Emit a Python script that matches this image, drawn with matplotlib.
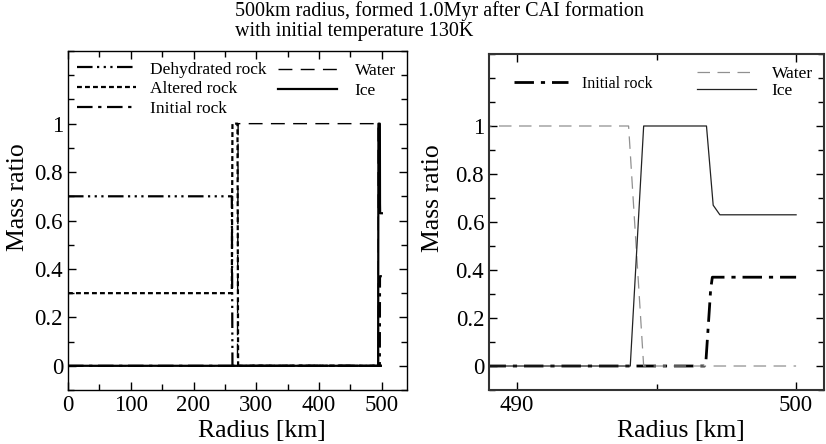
import numpy as np
import matplotlib
matplotlib.use("Agg")
import matplotlib.pyplot as plt
from matplotlib.ticker import MultipleLocator, FixedLocator

plt.rcParams["font.family"] = ["Liberation Serif", "DejaVu Serif"]

# radius [km] / mass ratio for each component
dehyd_r = [0, 261, 262, 500]
dehyd_v = [0.7, 0.7, 0.0, 0.0]

altered_r = [0, 261, 262, 270, 271, 500]
altered_v = [0.3, 0.3, 1.0, 1.0, 0.0, 0.0]

initial_r = [0, 496.72, 496.77, 496.89, 496.94, 497.0, 500]
initial_v = [0.0, 0.0, 0.02, 0.23, 0.32, 0.37, 0.37]

water_r = [0, 270, 271, 494.0, 494.54, 500]
water_v = [0.0, 0.0, 1.0, 1.0, 0.0, 0.0]

ice_r = [0, 494.06, 494.54, 496.79, 497.03, 497.27, 500]
ice_v = [0.0, 0.0, 1.0, 1.0, 0.67, 0.63, 0.63]

title = "500km radius, formed 1.0Myr after CAI formation\nwith initial temperature 130K"

ls_dehyd = (0, (7, 2, 1, 2, 1, 2, 1, 2))
ls_altered = (0, (2.2, 1.4))
ls_initial = (0, (7, 2.5, 1.5, 2.5))
ls_water = (0, (10, 6))

fig = plt.figure(figsize=(8.26, 4.44), dpi=100)
ax1 = fig.add_axes([0.0823, 0.1216, 0.4104, 0.7635])
ax2 = fig.add_axes([0.592, 0.1216, 0.4056, 0.7568])

# left panel: whole body
ax1.plot(dehyd_r, dehyd_v, color="k", lw=1.6, ls=ls_dehyd, label="Dehydrated rock")
ax1.plot(altered_r, altered_v, color="k", lw=1.6, ls=ls_altered, label="Altered rock")
ax1.plot(initial_r, initial_v, color="k", lw=1.6, ls=ls_initial, label="Initial rock")
ax1.plot(water_r, water_v, color="k", lw=1.0, ls=ls_water, label="Water")
ax1.plot(ice_r, ice_v, color="k", lw=1.6, ls="-", label="Ice")

ax1.set_xlim(0, 540)
ax1.set_ylim(-0.1, 1.3)
ax1.xaxis.set_major_locator(MultipleLocator(100))
ax1.xaxis.set_minor_locator(MultipleLocator(50))

h1, l1 = ax1.get_legend_handles_labels()
lg = ax1.legend(h1[:3], l1[:3], loc="upper left", frameon=False, fontsize=12.5,
                handlelength=3.4, handletextpad=0.85, labelspacing=0.2,
                borderaxespad=0.0, bbox_to_anchor=(0.005, 0.99))
ax1.add_artist(lg)
ax1.legend(h1[3:], l1[3:], loc="upper left", frameon=False, fontsize=12.5,
           handlelength=3.4, handletextpad=1.0, labelspacing=0.2,
           borderaxespad=0.0, bbox_to_anchor=(0.6, 0.985))

# right panel: close-up near surface
ax2.plot(initial_r, initial_v, color="k", lw=2.0, ls=ls_initial, label="Initial rock")
ax2.plot(water_r, water_v, color="#909090", lw=0.9, ls=ls_water, label="Water")
ax2.plot(ice_r, ice_v, color="#222222", lw=0.9, ls="-", label="Ice")

ax2.set_xlim(489, 501)
ax2.set_ylim(-0.1, 1.3)
ax2.set_xticks([490, 500])
ax2.xaxis.set_minor_locator(FixedLocator([495]))

h2, l2 = ax2.get_legend_handles_labels()
lg = ax2.legend(h2[:1], l2[:1], loc="upper left", frameon=False, fontsize=11.5,
                handlelength=3.4, handletextpad=0.9, borderaxespad=0.0,
                bbox_to_anchor=(0.055, 0.955))
ax2.add_artist(lg)
ax2.legend(h2[1:], l2[1:], loc="upper left", frameon=False, fontsize=12.5,
           handlelength=3.4, handletextpad=0.9, labelspacing=0.05,
           borderaxespad=0.0, bbox_to_anchor=(0.6, 0.985))

for ax in (ax1, ax2):
    ax.set_yticks([0, 0.2, 0.4, 0.6, 0.8, 1])
    ax.set_yticklabels(["0", "0.2", "0.4", "0.6", "0.8", "1"])
    ax.yaxis.set_minor_locator(FixedLocator(np.arange(-0.1, 1.31, 0.1)))
    ax.set_xlabel("Radius [km]", fontsize=18.5, labelpad=3, x=0.572)
    ax.tick_params(which="both", direction="in", top=True, right=True, labelsize=16.5)
    ax.tick_params(which="major", length=6, width=1.0)
    ax.tick_params(which="minor", length=4, width=1.0)
ax1.set_ylabel("Mass ratio", fontsize=18.5, labelpad=4, y=0.57)
ax2.set_ylabel("Mass ratio", fontsize=18.5, labelpad=8, y=0.57)
for s in ax1.spines.values():
    s.set_linewidth(1.0)
for s in ax2.spines.values():
    s.set_linewidth(1.5)
    s.set_color("#333333")

fig.text(0.2845, 0.997, title, ha="left", va="top", fontsize=14.5, linespacing=1.05)

fig.savefig("out.png", dpi=100)
